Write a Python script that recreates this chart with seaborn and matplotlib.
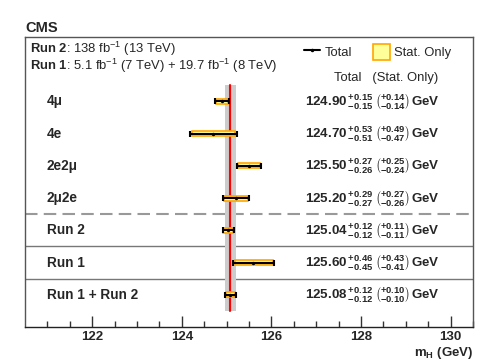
import numpy as np
import pandas as pd
import matplotlib
matplotlib.use('Agg')
import matplotlib.pyplot as plt
import matplotlib.transforms as mtransforms
from matplotlib.lines import Line2D
from matplotlib.patches import Patch
import seaborn as sns

# === DATA ===
labels = ['4μ', '4e', '2e2μ', '2μ2e', 'Run 2', 'Run 1', 'Run 1 + Run 2']
mass = [124.90, 124.70, 125.50, 125.20, 125.04, 125.60, 125.08]
tot_up = [0.15, 0.53, 0.27, 0.29, 0.12, 0.46, 0.12]
tot_dn = [0.15, 0.51, 0.26, 0.27, 0.12, 0.45, 0.12]
stat_up = [0.14, 0.49, 0.25, 0.27, 0.11, 0.43, 0.10]
stat_dn = [0.14, 0.47, 0.24, 0.26, 0.11, 0.41, 0.10]
combined = 125.08
combined_err = 0.12

df = pd.DataFrame({'label': labels, 'mass': mass, 'tot_up': tot_up, 'tot_dn': tot_dn,
                   'stat_up': stat_up, 'stat_dn': stat_dn})
df['row'] = np.arange(len(df))

sns.set_style('ticks')
plt.rcParams['font.family'] = ['Liberation Sans', 'DejaVu Sans']
plt.rcParams['mathtext.fontset'] = 'custom'
plt.rcParams['mathtext.rm'] = 'Liberation Sans'
plt.rcParams['mathtext.bf'] = 'Liberation Sans:bold'
plt.rcParams['mathtext.it'] = 'Liberation Sans:italic'

fig = plt.figure(figsize=(4.98, 3.64), dpi=100)
ax = fig.add_axes([0.0502, 0.1016, 0.8996, 0.7968])

# combined band + line
ax.fill_betweenx([-0.5, 6.5], combined - combined_err, combined + combined_err,
                 color='#cccccc', lw=0, zorder=1)
ax.plot([combined, combined], [-0.5, 6.5], color='red', lw=1.5, zorder=2)

# stat boxes
ax.barh(df['row'], df['stat_up'] + df['stat_dn'], left=df['mass'] - df['stat_dn'],
        height=0.16, color='#ffff99', edgecolor='#ffa500', lw=1.2, zorder=3)
# total error bars
ax.errorbar(df['mass'], df['row'], xerr=[df['tot_dn'], df['tot_up']], fmt='none',
            ecolor='black', elinewidth=1.5, capsize=2.2, capthick=1.5, zorder=4)
sns.scatterplot(data=df, x='mass', y='row', color='black', s=6, linewidth=0,
                zorder=5, ax=ax, legend=False)

# separators
ax.axhline(3.5, color='#999999', lw=1.5, ls=(0, (6, 3)), zorder=0)
ax.axhline(4.5, color='#777777', lw=1.0, zorder=0)
ax.axhline(5.5, color='#777777', lw=1.0, zorder=0)

ax.set_xlim(120.5, 130.5)
ax.set_ylim(7, -2)
ax.set_yticks([])
ax.set_xticks([122, 124, 126, 128, 130])
ax.set_xticks(np.arange(121, 130.6, 0.5), minor=True)
ax.tick_params(axis='x', which='major', direction='in', length=8, width=1,
               labelsize=9.5, pad=3, color='#333333')
ax.tick_params(axis='x', which='minor', direction='in', length=4, width=1, color='#333333')
for t in ax.get_xticklabels():
    t.set_fontweight('bold')
for s in ax.spines.values():
    s.set_color('#555555')
    s.set_linewidth(1.0)
ax.spines['bottom'].set_color('#222222')
ax.set_xlabel('')
ax.set_ylabel('')

trans = mtransforms.blended_transform_factory(ax.transAxes, ax.transData)

for _, r in df.iterrows():
    ax.text(0.049, r['row'], r['label'], transform=trans, ha='left', va='center',
            fontsize=9.8, fontweight='bold')
    s = (r'$\mathbf{%.2f}\,^{\mathbf{+%.2f}}_{\mathbf{-%.2f}}\;\left({}^{\mathbf{+%.2f}}_{\mathbf{-%.2f}}\right)\,\mathbf{GeV}$'
         % (r['mass'], r['tot_up'], r['tot_dn'], r['stat_up'], r['stat_dn']))
    ax.text(0.625, r['row'], s, transform=trans, ha='left', va='center', fontsize=9.6)

# header texts
ax.text(0.0, 1.008, 'CMS', transform=ax.transAxes, ha='left', va='bottom',
        fontsize=10.5, fontweight='bold')
ax.text(0.011, -1.64, r'$\mathbf{Run\ 2}$: 138 fb$^{-1}$ (13 TeV)', transform=trans,
        ha='left', va='center', fontsize=9.4)
ax.text(0.011, -1.11, r'$\mathbf{Run\ 1}$: 5.1 fb$^{-1}$ (7 TeV) + 19.7 fb$^{-1}$ (8 TeV)',
        transform=trans, ha='left', va='center', fontsize=9.4)
ax.text(0.69, -0.74, 'Total   (Stat. Only)', transform=trans, ha='left', va='center',
        fontsize=9.4)

handles = [Line2D([0], [0], color='black', lw=1.5, marker='.', markersize=3),
           Patch(facecolor='#ffff99', edgecolor='#ffa500', lw=1.2)]
ax.legend(handles, ['Total', 'Stat. Only'], ncol=2, frameon=False, fontsize=9.4,
          loc='upper left', bbox_to_anchor=(0.61, 0.995), handlelength=1.3,
          handleheight=1.5, handletextpad=0.3, columnspacing=1.6, borderaxespad=0)

fig.text(0.9498, 0.008, r'm$_\mathregular{H}$ (GeV)', ha='right', va='bottom', fontsize=9.5,
         fontweight='bold')

fig.savefig('out.png', dpi=100)
